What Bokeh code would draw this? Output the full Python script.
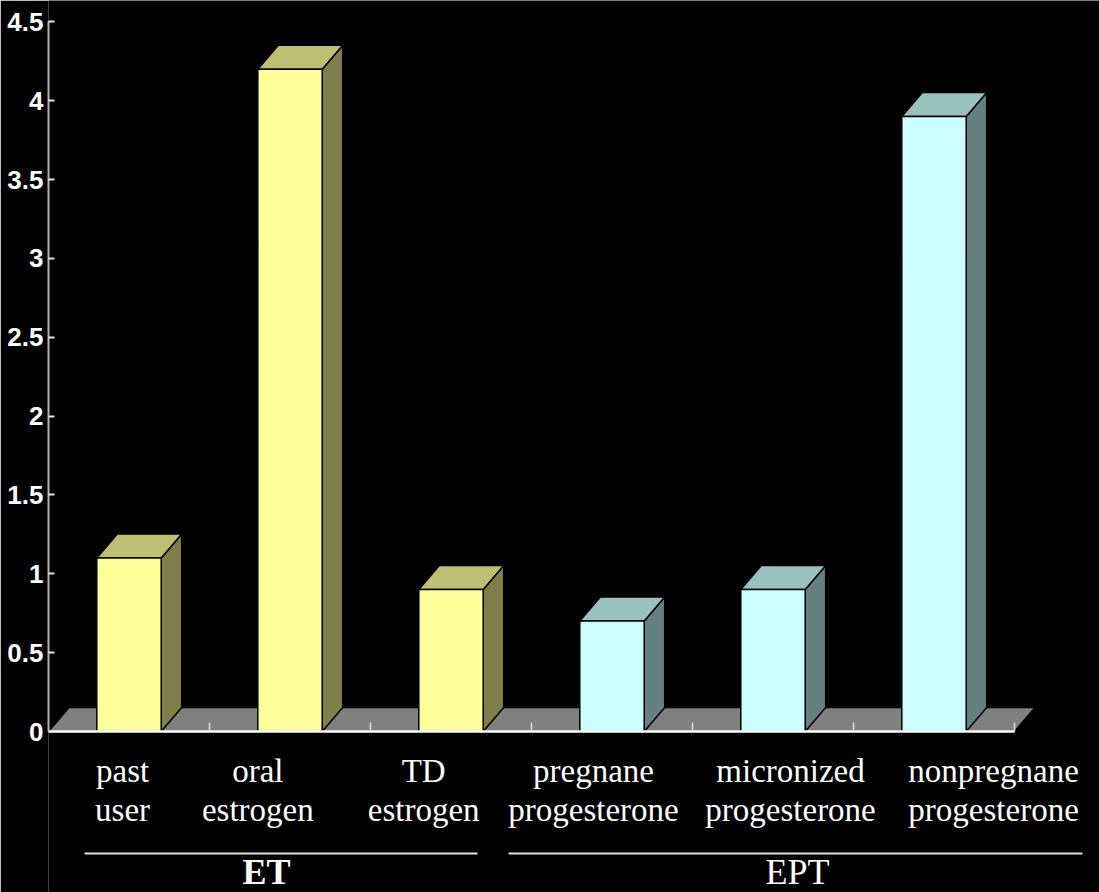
from bokeh.plotting import figure
from bokeh.models import Range1d, LinearAxis, FixedTicker, ColumnDataSource
from bokeh.core.properties import value
from bokeh.embed import file_html
from bokeh.resources import INLINE

# ---- data -------------------------------------------------------------
categories = ["past user", "oral estrogen", "TD estrogen",
              "pregnane progesterone", "micronized progesterone",
              "nonpregnane progesterone"]
label_top = ["past", "oral", "TD", "pregnane", "micronized", "nonpregnane"]
label_bottom = ["user", "estrogen", "estrogen",
                "progesterone", "progesterone", "progesterone"]
groups = ["ET", "ET", "ET", "EPT", "EPT", "EPT"]
values = [1.1, 4.2, 0.9, 0.7, 0.9, 3.9]
y_ticks = [0, 0.5, 1, 1.5, 2, 2.5, 3, 3.5, 4, 4.5]
y_tick_labels = ["0", "0.5", "1", "1.5", "2", "2.5", "3", "3.5", "4", "4.5"]
group_names = ["ET", "EPT"]

# ---- layout / style ---------------------------------------------------
W, H = 1099, 892
LEFT = 48                 # width reserved for the value axis labels
CAT_PX = 161.0            # pixels per category slot
UNIT_PX = 157.7           # pixels per 1.0 on the value axis
ZERO_PX = 731             # screen row of the zero line
BAR_W = 0.4               # front face width, in category slots
DX = 20.5 / CAT_PX        # depth offset of the 3-D faces
DY = 24.0 / UNIT_PX

face = {"ET": "#FFFF99", "EPT": "#CCFFFF"}
top_c = {"ET": "#BFBF73", "EPT": "#99C2BF"}
side_c = {"ET": "#7F7F4C", "EPT": "#668080"}

# horizontal nudge of each category caption, in category slots
label_shift = [-0.04, -0.20, -0.17, -0.115, 0.109, 0.37]


def y_of(px):
    """screen row -> value-axis coordinate"""
    return (ZERO_PX - px) / UNIT_PX


def x_of(px):
    """screen column -> category-axis coordinate"""
    return (px - LEFT) / CAT_PX


def text_y(px, size):
    """anchor for a text glyph whose visible baseline sits on row px"""
    return y_of(px - 0.33 * size)


p = figure(width=W, height=H, output_backend="svg", toolbar_location=None,
           x_axis_type=None, y_axis_type=None,
           x_range=Range1d(0, (W - LEFT) / CAT_PX),
           y_range=Range1d(y_of(H), y_of(0)),
           min_border_left=LEFT, min_border_right=0,
           min_border_top=0, min_border_bottom=0,
           background_fill_color="black", border_fill_color="black",
           outline_line_color=None)
p.xgrid.visible = False
p.ygrid.visible = False

n = len(values)

# ---- floor --------------------------------------------------------------
p.patch([0, n, n + DX, DX], [0, 0, DY, DY],
        fill_color="#808080", line_color="black", line_width=1.5)

# ---- bars (side, top, front) ------------------------------------------
for i, (v, g) in enumerate(zip(values, groups)):
    c = i + 0.5
    l, r = c - BAR_W / 2, c + BAR_W / 2
    p.patch([r, r + DX, r + DX, r], [0, DY, v + DY, v],
            fill_color=side_c[g], line_color="black", line_width=1.5)
    p.patch([l, r, r + DX, l + DX], [v, v, v + DY, v + DY],
            fill_color=top_c[g], line_color="black", line_width=1.5)
    p.quad(left=l, right=r, bottom=0, top=v,
           fill_color=face[g], line_color="black", line_width=1.5)

# ---- category baseline and slot ticks ---------------------------------
p.segment(x0=0, y0=0, x1=n, y1=0, line_color="white", line_width=2.5)
tick_h = 9 / UNIT_PX
p.segment(x0=list(range(1, n + 1)), y0=[0] * n,
          x1=list(range(1, n + 1)), y1=[tick_h] * n,
          line_color="#DDDDDD", line_width=1.5)

# ---- value axis ---------------------------------------------------------
yax = LinearAxis(ticker=FixedTicker(ticks=y_ticks), bounds=(0, y_ticks[-1]))
yax.major_label_overrides = {t: s for t, s in zip(y_ticks, y_tick_labels)}
yax.axis_line_color = "#B4B4B4"
yax.axis_line_width = 2
yax.major_tick_in = 6
yax.major_tick_out = 0
yax.major_tick_line_color = "#E6E6E6"
yax.major_tick_line_width = 2
yax.minor_tick_line_color = None
yax.major_label_standoff = 5
yax.major_label_text_color = "white"
yax.major_label_text_font = "Liberation Sans"
yax.major_label_text_font_style = "bold"
yax.major_label_text_font_size = "26px"
p.add_layout(yax, "left")

# ---- category captions --------------------------------------------------
CAP_SIZE = 33
lab = ColumnDataSource(dict(
    x=[i + 0.5 + s for i, s in enumerate(label_shift)],
    top=label_top, bottom=label_bottom))
for col, row in (("top", 781), ("bottom", 820)):
    p.text(x="x", y=text_y(row, CAP_SIZE), text=col, source=lab,
           text_font=value("Liberation Serif"),
           text_font_size=f"{CAP_SIZE}px",
           text_color="white", text_align="center",
           text_baseline="alphabetic")

# ---- group brackets -----------------------------------------------------
bracket_px = {"ET": (84, 477), "EPT": (508, 1082)}
caption_px = {"ET": (266, 883), "EPT": (797, 883)}
caption_style = {"ET": ("bold", 36), "EPT": ("normal", 36)}
for g in group_names:
    x0, x1 = (x_of(v) for v in bracket_px[g])
    p.segment(x0=x0, y0=y_of(853), x1=x1, y1=y_of(853),
              line_color="#E0E0E0", line_width=2)
    cx, cy = caption_px[g]
    style, size = caption_style[g]
    p.text(x=[x_of(cx)], y=[text_y(cy, size)], text=[g],
           text_font=value("Liberation Serif"), text_font_size=f"{size}px",
           text_font_style=style, text_color="white",
           text_align="center", text_baseline="alphabetic")

open("out.html", "w").write(file_html(p, INLINE))
